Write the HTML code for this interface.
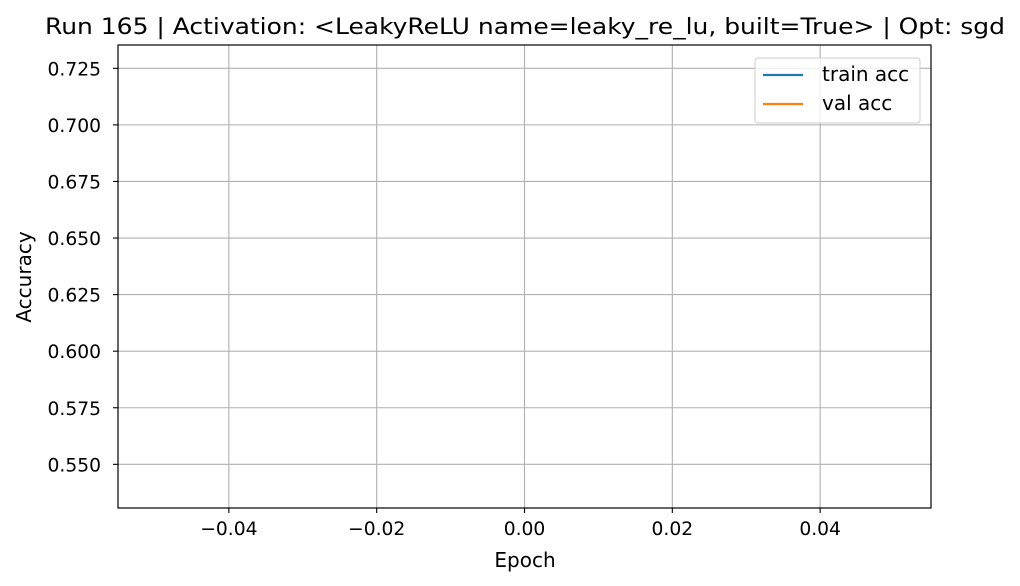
<!DOCTYPE html>
<html><head><meta charset="utf-8"><style>
html,body{margin:0;padding:0;background:#fff;}
svg{display:block;font-family:"DejaVu Sans","Liberation Sans",sans-serif;}
</style></head><body>
<svg id="chart" width="1020" height="586" viewBox="0 0 1020 586">
<text x="45" y="34" font-size="22" textLength="960" lengthAdjust="spacingAndGlyphs" fill="#000">Run 165 | Activation: &lt;LeakyReLU name=leaky_re_lu, built=True&gt; | Opt: sgd</text>
<g id="grid"></g>
<g id="series"></g>
<rect x="118" y="45" width="813" height="463" fill="none" stroke="#000" stroke-width="1.2"/>
<g id="xticks"></g>
<g id="yticks"></g>
<text x="525" y="567" font-size="20" text-anchor="middle">Epoch</text>
<text x="31" y="277" font-size="20" text-anchor="middle" transform="rotate(-90 31 277)">Accuracy</text>
<g>
<rect x="755" y="58" width="165" height="65" rx="3" fill="#fff" fill-opacity="0.8" stroke="#ccc"/>
<g><line x1="763" y1="75" x2="803" y2="75" stroke="#1f77b4" stroke-width="2.2"/><text x="822" y="81" font-size="20">train acc</text></g>
<g><line x1="763" y1="104" x2="803" y2="104" stroke="#ff7f0e" stroke-width="2.2"/><text x="822" y="110" font-size="20">val acc</text></g>
</g>
</svg>
<script>
const epochs=[0];
const trainAcc=[0.540];
const valAcc=[0.726];
const xTicks=[-0.04,-0.02,0.00,0.02,0.04];
const xTickLabels=["\u22120.04","\u22120.02","0.00","0.02","0.04"];
const yTicks=[0.550,0.575,0.600,0.625,0.650,0.675,0.700,0.725];
const yTickLabels=["0.550","0.575","0.600","0.625","0.650","0.675","0.700","0.725"];
const ns="http://www.w3.org/2000/svg";
const L=118,R=931,T=45,B=508;
const xMin=-0.055,xMax=0.055;
const allY=trainAcc.concat(valAcc);
let yLo=Math.min(...allY),yHi=Math.max(...allY);
const pad=(yHi-yLo)*0.05||0.05*Math.abs(yHi);
const yMin=yLo-pad,yMax=yHi+pad;
const xs=v=>L+(v-xMin)/(xMax-xMin)*(R-L);
const ys=v=>B-(v-yMin)/(yMax-yMin)*(B-T);
function mk(t,a){const e=document.createElementNS(ns,t);for(const k in a)e.setAttribute(k,a[k]);return e;}
const grid=document.getElementById('grid'),xt=document.getElementById('xticks'),yt=document.getElementById('yticks');
xTicks.forEach((v,i)=>{const x=xs(v);
const g=mk('line',{x1:x,x2:x,y1:T,y2:B,stroke:'#b0b0b0','stroke-width':1.1});


grid.appendChild(g);
const tk=mk('line',{x1:x,x2:x,y1:B,y2:B+5,stroke:'#000','stroke-width':1.1});


xt.appendChild(tk);
const tx=mk('text',{x:x,y:B+27,'font-size':18.7,'text-anchor':'middle'});tx.textContent=xTickLabels[i];


xt.appendChild(tx);});
yTicks.forEach((v,i)=>{const y=ys(v);
const g=mk('line',{x1:L,x2:R,y1:y,y2:y,stroke:'#b0b0b0','stroke-width':1.1});


grid.appendChild(g);
const tk=mk('line',{x1:L-5,x2:L,y1:y,y2:y,stroke:'#000','stroke-width':1.1});


yt.appendChild(tk);
const tx=mk('text',{x:L-17,y:y+7,'font-size':18.7,'text-anchor':'end'});tx.textContent=yTickLabels[i];


yt.appendChild(tx);});
const ser=document.getElementById('series');
[[trainAcc,'#1f77b4','train-acc-line'],[valAcc,'#ff7f0e','val-acc-line']].forEach(([arr,c,n])=>{
const d=arr.map((v,i)=>(i?'L':'M')+xs(epochs[i])+' '+ys(v)).join(' ');
const p=mk('path',{d:d,fill:'none',stroke:c,'stroke-width':2.2});


ser.appendChild(p);
arr.forEach((v,i)=>{const pt=mk('circle',{cx:xs(epochs[i]),cy:ys(v),r:0,fill:c});


ser.appendChild(pt);});
});
</script>
</body></html>
